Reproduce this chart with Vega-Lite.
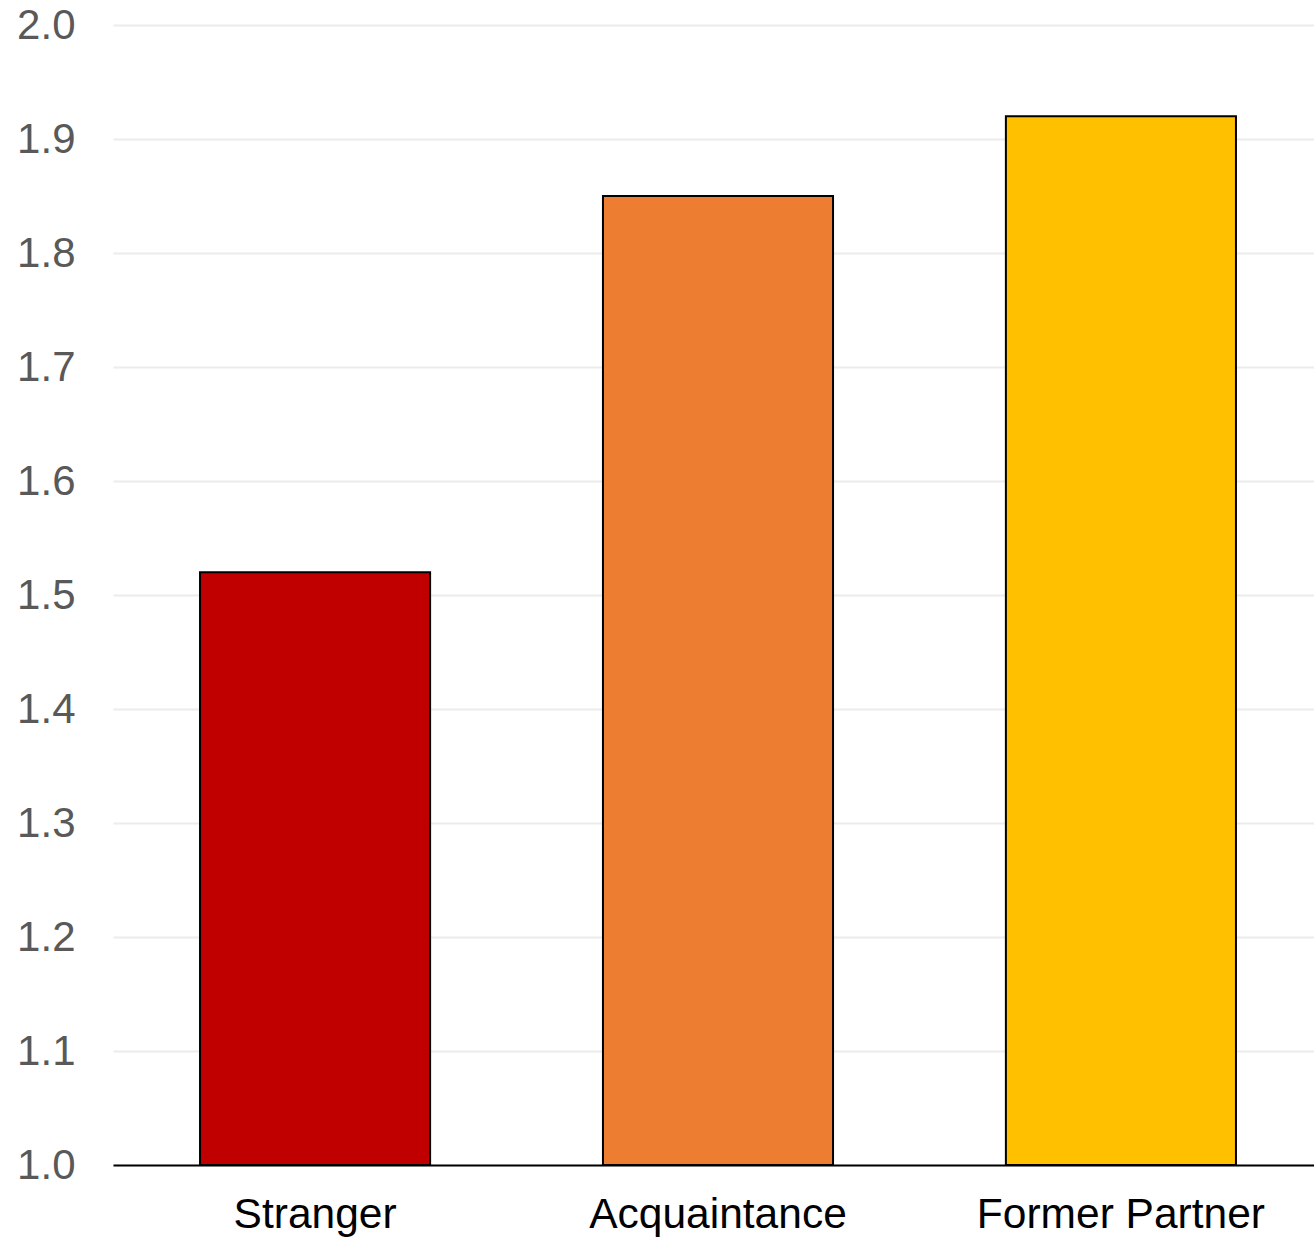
{
  "$schema": "https://vega.github.io/schema/vega-lite/v6.json",
  "width": 1201,
  "height": 1140,
  "autosize": {"type": "none"},
  "padding": {"left": 113, "top": 25, "right": 0, "bottom": 74},
  "background": "white",
  "data": {"values": [
    {"group": "Stranger", "value": 1.52},
    {"group": "Acquaintance", "value": 1.85},
    {"group": "Former Partner", "value": 1.92}
  ]},
  "mark": {"type": "bar", "stroke": "black", "strokeWidth": 2},
  "encoding": {
    "x": {
      "field": "group", "type": "nominal", "sort": null,
      "scale": {"range": [0, 1210], "paddingInner": 0.429, "paddingOuter": 0.216},
      "axis": {"title": null, "labelAngle": 0, "labelLimit": 0, "labelFont": "Liberation Sans", "labelFontSize": 42.5, "labelColor": "black", "ticks": false, "domainColor": "black", "domainWidth": 2, "labelPadding": 28, "grid": false}
    },
    "y": {
      "field": "value", "type": "quantitative",
      "scale": {"domain": [1.0, 2.0], "zero": false, "clamp": true},
      "axis": {"title": null, "values": [1.0, 1.1, 1.2, 1.3, 1.4, 1.5, 1.6, 1.7, 1.8, 1.9, 2.0], "format": ".1f", "labelFont": "Liberation Sans", "labelFontSize": 42, "labelColor": "#595959", "ticks": false, "domain": false, "labelPadding": 38, "gridColor": "#ececec", "gridWidth": 2}
    },
    "color": {
      "field": "group", "type": "nominal", "sort": null,
      "scale": {"domain": ["Stranger", "Acquaintance", "Former Partner"], "range": ["#C00000", "#ED7D31", "#FFC000"]},
      "legend": null
    }
  },
  "config": {"view": {"stroke": null}}
}
